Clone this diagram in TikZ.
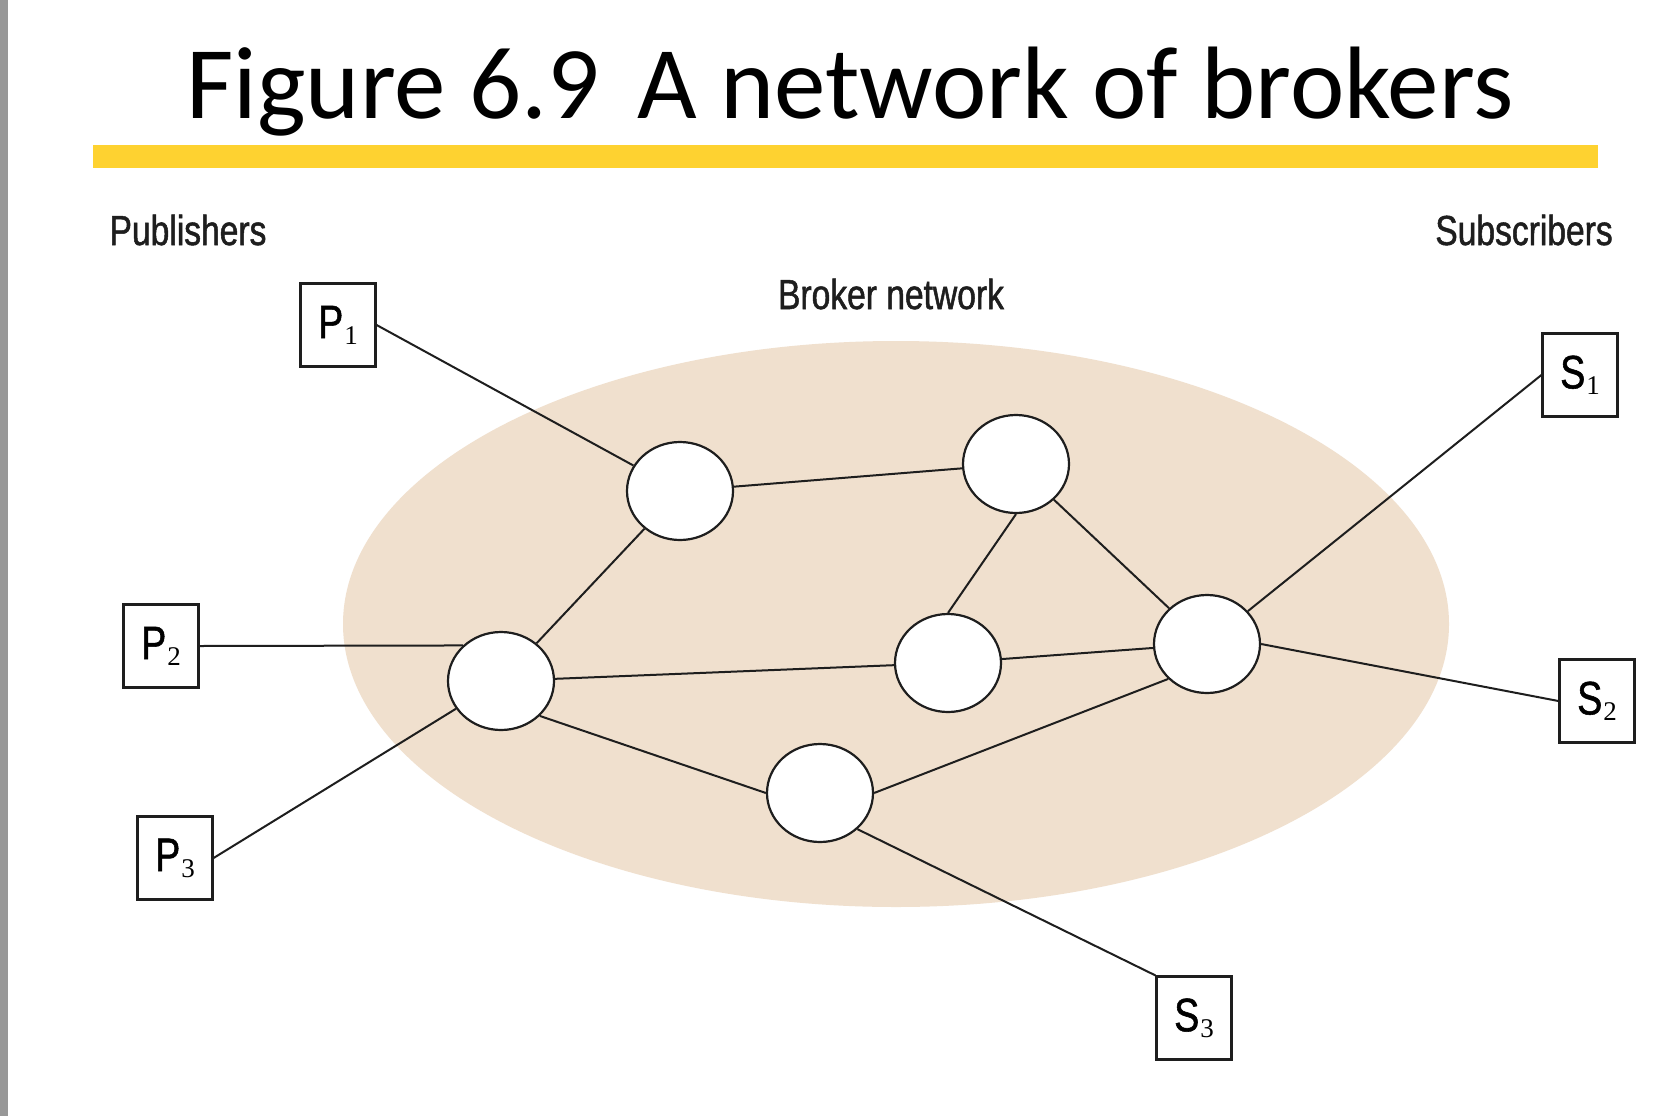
\documentclass[tikz,border=0pt]{standalone}
\usepackage{fontspec}
\setmainfont{Carlito}
\newfontfamily\condsans[FakeStretch=0.8, FakeBold=1.2]{Liberation Sans}
\newfontfamily\subserif{Liberation Serif}
\usetikzlibrary{shapes.geometric}

\definecolor{cloud}{RGB}{240,224,206}
\definecolor{rulebar}{RGB}{254,210,48}
\definecolor{sidebar}{RGB}{152,152,152}
\definecolor{ink}{RGB}{30,30,30}

% a capital letter with a small serif index, as in P1 or S3
\newcommand{\boxlabel}[2]{{\condsans\fontsize{47}{47}\selectfont #1}\kern1pt\raisebox{-6pt}{\subserif\fontsize{27}{27}\selectfont #2}}

\tikzset{
  broker/.style={ellipse, draw=ink, fill=white, line width=2.2pt,
    minimum width=106pt, minimum height=98pt, inner sep=0pt},
  endbox/.style={rectangle, draw=ink, fill=white, line width=2.2pt,
    minimum width=75pt, minimum height=83pt, inner sep=0pt},
  caption/.style={anchor=base, text=ink, font=\condsans\fontsize{42}{42}\selectfont},
  link/.style={draw=ink, line width=2pt},
}

\begin{document}
\begin{tikzpicture}[x=1pt, y=-1pt]
  \useasboundingbox (0,0) rectangle (1664,1116);
  \fill[white] (0,0) rectangle (1664,1116);
  \fill[sidebar] (0,0) rectangle (8,1116);

  % heading and its rule
  \node[anchor=base, font=\fontsize{103}{103}\selectfont] (title) at (850,118)
    {Figure 6.9\hspace{0.14em} A network of brokers};
  \fill[rulebar] (93,145) rectangle (1598,168);

  % broker cloud
  \fill[cloud] (896,624) ellipse [x radius=553pt, y radius=283pt];

  % captions
  \node[caption] (pubs) at (188,245) {Publishers};
  \node[caption] (subs) at (1524,245) {Subscribers};
  \node[caption] (net) at (891,309) {Broker network};

  % publishers and subscribers
  \node[endbox] (P1) at (338,325) {\boxlabel{P}{1}};
  \node[endbox] (P2) at (161,646) {\boxlabel{P}{2}};
  \node[endbox] (P3) at (175,858) {\boxlabel{P}{3}};
  \node[endbox] (S1) at (1580,375) {\boxlabel{S}{1}};
  \node[endbox] (S2) at (1597,701) {\boxlabel{S}{2}};
  \node[endbox] (S3) at (1194,1018) {\boxlabel{S}{3}};

  % brokers
  \node[broker] (B1) at (680,491) {};
  \node[broker] (B2) at (1016,464) {};
  \node[broker] (B3) at (501,681) {};
  \node[broker] (B4) at (948,663) {};
  \node[broker] (B5) at (1207,644) {};
  \node[broker] (B6) at (820,793) {};

  % links
  \draw[link] (P1.east) -- (B1);
  \draw[link] (P2.east) -- (B3.137);
  \draw[link] (P3.east) -- (B3);
  \draw[link] (B1) -- (B2);
  \draw[link] (B1) -- (B3);
  \draw[link] (B2.south) -- (B4.north);
  \draw[link] (B2) -- (B5);
  \draw[link] (B3) -- (B4);
  \draw[link] (B4) -- (B5);
  \draw[link] (B3.318) -- (B6.west);
  \draw[link] (B6.east) -- (B5.222);
  \draw[link] (B5) -- (S1.west);
  \draw[link] (B5.east) -- (S2.west);
  \draw[link] (B6.316) -- (S3.north west);
\end{tikzpicture}
\end{document}
